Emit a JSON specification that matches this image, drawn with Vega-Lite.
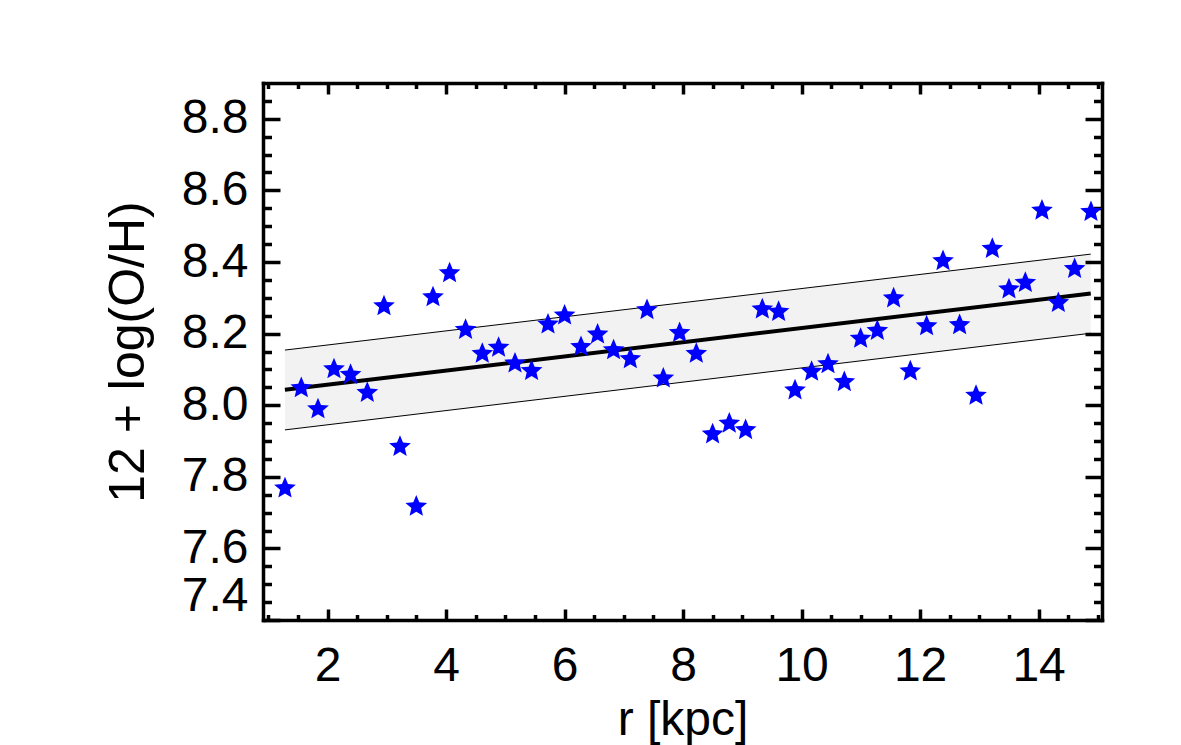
{
  "$schema": "https://vega.github.io/schema/vega-lite/v6.json",
  "autosize": "none",
  "width": 839,
  "height": 537,
  "padding": {"left": 263, "top": 83, "right": 79, "bottom": 125},
  "background": "white",
  "config": {
    "view": {"stroke": null},
    "font": "Liberation Sans",
    "axis": {
      "grid": false,
      "domainColor": "black",
      "tickColor": "black",
      "labelColor": "black",
      "titleColor": "black",
      "labelFont": "Liberation Sans",
      "titleFont": "Liberation Sans",
      "labelFontSize": 48,
      "titleFontSize": 48,
      "titleFontWeight": "normal",
      "labelOverlap": false,
      "domainCap": "square",
      "tickWidth": 3.5
    }
  },
  "datasets": {
    "fit": [
      {"r": 1.28, "lo": 7.931, "fit": 8.043, "hi": 8.154},
      {"r": 14.88, "lo": 8.201, "fit": 8.312, "hi": 8.422}
    ],
    "stars": [
      {"r": 1.281, "oh": 7.768},
      {"r": 1.556, "oh": 8.048},
      {"r": 1.838, "oh": 7.989},
      {"r": 2.108, "oh": 8.101},
      {"r": 2.388, "oh": 8.085},
      {"r": 2.670, "oh": 8.035},
      {"r": 2.952, "oh": 8.277},
      {"r": 3.222, "oh": 7.884},
      {"r": 3.497, "oh": 7.717},
      {"r": 3.779, "oh": 8.302},
      {"r": 4.059, "oh": 8.369},
      {"r": 4.329, "oh": 8.211},
      {"r": 4.611, "oh": 8.144},
      {"r": 4.886, "oh": 8.161},
      {"r": 5.163, "oh": 8.117},
      {"r": 5.443, "oh": 8.096},
      {"r": 5.720, "oh": 8.226},
      {"r": 6.000, "oh": 8.251},
      {"r": 6.277, "oh": 8.163},
      {"r": 6.557, "oh": 8.198},
      {"r": 6.827, "oh": 8.154},
      {"r": 7.109, "oh": 8.129},
      {"r": 7.391, "oh": 8.266},
      {"r": 7.666, "oh": 8.075},
      {"r": 7.941, "oh": 8.202},
      {"r": 8.223, "oh": 8.144},
      {"r": 8.498, "oh": 7.919},
      {"r": 8.780, "oh": 7.949},
      {"r": 9.055, "oh": 7.931},
      {"r": 9.337, "oh": 8.268},
      {"r": 9.612, "oh": 8.261},
      {"r": 9.889, "oh": 8.042},
      {"r": 10.169, "oh": 8.094},
      {"r": 10.446, "oh": 8.115},
      {"r": 10.721, "oh": 8.065},
      {"r": 10.996, "oh": 8.186},
      {"r": 11.278, "oh": 8.208},
      {"r": 11.553, "oh": 8.299},
      {"r": 11.835, "oh": 8.095},
      {"r": 12.110, "oh": 8.221},
      {"r": 12.387, "oh": 8.403},
      {"r": 12.667, "oh": 8.224},
      {"r": 12.944, "oh": 8.027},
      {"r": 13.219, "oh": 8.437},
      {"r": 13.500, "oh": 8.324},
      {"r": 13.776, "oh": 8.342},
      {"r": 14.057, "oh": 8.544},
      {"r": 14.333, "oh": 8.286},
      {"r": 14.608, "oh": 8.381},
      {"r": 14.884, "oh": 8.540}
    ]
  },
  "resolve": {"axis": {"x": "independent", "y": "independent"}},
  "layer": [
    {
      "data": {"name": "fit"},
      "mark": {"type": "area", "color": "black", "opacity": 0.05},
      "encoding": {
        "x": {
          "field": "r", "type": "quantitative",
          "scale": {"domain": [0.91, 15.07], "nice": false, "zero": false},
          "axis": {
            "orient": "bottom", "values": [2, 4, 6, 8, 10, 12, 14], "format": "d",
            "tickSize": -11, "domainWidth": 3.5, "labelPadding": 33, "labelFlush": false,
            "title": "r [kpc]", "titlePadding": 6
          }
        },
        "y": {
          "field": "lo", "type": "quantitative",
          "scale": {"domain": [7.4, 8.9], "nice": false, "zero": false},
          "axis": {
            "orient": "left", "values": [7.4, 7.6, 7.8, 8.0, 8.2, 8.4, 8.6, 8.8], "format": ".1f",
            "tickSize": -17, "domainWidth": 3.5, "labelPadding": 32, "labelFlush": true,
            "title": "12 + log(O/H)", "titlePadding": 28, "titleFontSize": 50
          }
        },
        "y2": {"field": "hi"}
      }
    },
    {
      "data": {"name": "fit"},
      "mark": {"type": "line", "color": "black", "strokeWidth": 1},
      "encoding": {
        "x": {
          "field": "r", "type": "quantitative",
          "scale": {"domain": [0.91, 15.07], "nice": false, "zero": false},
          "axis": {
            "orient": "bottom", "values": [1, 1.5, 2.5, 3, 3.5, 4.5, 5, 5.5, 6.5, 7, 7.5, 8.5, 9, 9.5, 10.5, 11, 11.5, 12.5, 13, 13.5, 14.5, 15],
            "tickSize": -5.5, "domain": false, "labels": false, "title": null
          }
        },
        "y": {
          "field": "hi", "type": "quantitative",
          "scale": {"domain": [7.4, 8.9], "nice": false, "zero": false},
          "axis": {
            "orient": "left", "values": [7.45, 7.5, 7.55, 7.65, 7.7, 7.75, 7.85, 7.9, 7.95, 8.05, 8.1, 8.15, 8.25, 8.3, 8.35, 8.45, 8.5, 8.55, 8.65, 8.7, 8.75, 8.85],
            "tickSize": -8.5, "domain": false, "labels": false, "title": null
          }
        }
      }
    },
    {
      "data": {"name": "fit"},
      "mark": {"type": "line", "color": "black", "strokeWidth": 1},
      "encoding": {
        "x": {
          "field": "r", "type": "quantitative",
          "scale": {"domain": [0.91, 15.07], "nice": false, "zero": false},
          "axis": {
            "orient": "top", "values": [2, 4, 6, 8, 10, 12, 14],
            "tickSize": -11, "domainWidth": 3.5, "labels": false, "title": null
          }
        },
        "y": {
          "field": "lo", "type": "quantitative",
          "scale": {"domain": [7.4, 8.9], "nice": false, "zero": false},
          "axis": {
            "orient": "right", "values": [7.4, 7.6, 7.8, 8.0, 8.2, 8.4, 8.6, 8.8],
            "tickSize": -17, "domainWidth": 3.5, "labels": false, "title": null
          }
        }
      }
    },
    {
      "data": {"name": "fit"},
      "mark": {"type": "line", "color": "black", "strokeWidth": 4},
      "encoding": {
        "x": {
          "field": "r", "type": "quantitative",
          "scale": {"domain": [0.91, 15.07], "nice": false, "zero": false},
          "axis": {
            "orient": "top", "values": [1, 1.5, 2.5, 3, 3.5, 4.5, 5, 5.5, 6.5, 7, 7.5, 8.5, 9, 9.5, 10.5, 11, 11.5, 12.5, 13, 13.5, 14.5, 15],
            "tickSize": -5.5, "domain": false, "labels": false, "title": null
          }
        },
        "y": {
          "field": "fit", "type": "quantitative",
          "scale": {"domain": [7.4, 8.9], "nice": false, "zero": false},
          "axis": {
            "orient": "right", "values": [7.45, 7.5, 7.55, 7.65, 7.7, 7.75, 7.85, 7.9, 7.95, 8.05, 8.1, 8.15, 8.25, 8.3, 8.35, 8.45, 8.5, 8.55, 8.65, 8.7, 8.75, 8.85],
            "tickSize": -8.5, "domain": false, "labels": false, "title": null
          }
        }
      }
    },
    {
      "data": {"name": "stars"},
      "mark": {
        "type": "point",
        "shape": "M0,-1L0.2645,-0.364L0.951,-0.309L0.428,0.139L0.5878,0.809L0,0.45L-0.5878,0.809L-0.428,0.139L-0.951,-0.309L-0.2645,-0.364Z",
        "filled": true,
        "color": "#0000ff",
        "opacity": 1,
        "size": 520
      },
      "encoding": {
        "x": {"field": "r", "type": "quantitative", "scale": {"domain": [0.91, 15.07], "nice": false, "zero": false}, "axis": null},
        "y": {"field": "oh", "type": "quantitative", "scale": {"domain": [7.4, 8.9], "nice": false, "zero": false}, "axis": null}
      }
    }
  ]
}
